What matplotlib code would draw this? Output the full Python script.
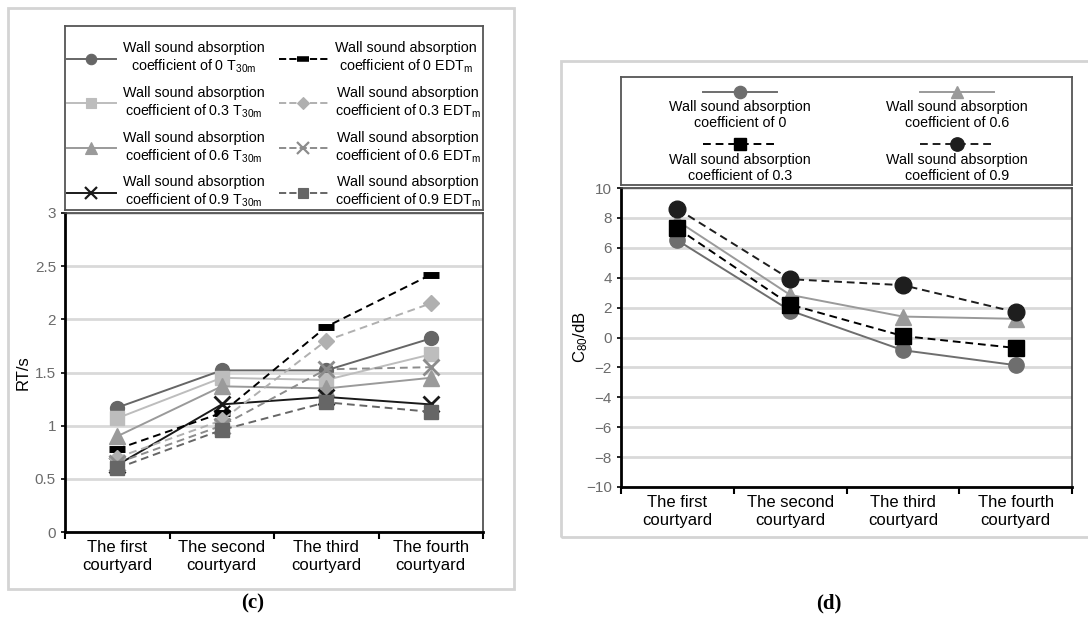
import matplotlib.pyplot as plt
from matplotlib.lines import Line2D
from matplotlib.patches import Rectangle
import numpy as np

plt.rcParams['font.family'] = ['Liberation Sans', 'DejaVu Sans']
plt.rcParams['mathtext.fontset'] = 'custom'
plt.rcParams['mathtext.rm'] = 'Liberation Sans'
plt.rcParams['mathtext.it'] = 'Liberation Sans'

# ---------------- data ----------------
courtyards = ['The first\ncourtyard', 'The second\ncourtyard',
              'The third\ncourtyard', 'The fourth\ncourtyard']

# panel (c): reverberation time, s
t30_0 = [1.17, 1.52, 1.52, 1.82]
t30_03 = [1.07, 1.45, 1.43, 1.67]
t30_06 = [0.90, 1.37, 1.35, 1.45]
t30_09 = [0.63, 1.20, 1.27, 1.20]
edt_0 = [0.78, 1.12, 1.93, 2.42]
edt_03 = [0.70, 1.05, 1.80, 2.15]
edt_06 = [0.65, 1.00, 1.53, 1.55]
edt_09 = [0.60, 0.96, 1.22, 1.13]

# panel (d): clarity C80, dB
c80_0 = [6.5, 1.8, -0.85, -1.85]
c80_03 = [7.3, 2.2, 0.1, -0.7]
c80_06 = [7.8, 2.85, 1.4, 1.25]
c80_09 = [8.6, 3.9, 3.5, 1.7]

coefs = ['0', '0.3', '0.6', '0.9']

W, H = 1088, 628
fig = plt.figure(figsize=(W / 100, H / 100), dpi=100)


def fx(px):
    return px / W


def fy(py):
    return 1 - py / H


# outer gray frames
fig.patches.append(Rectangle((fx(8), fy(589)), fx(506), 581 / H,
                             transform=fig.transFigure, fill=False,
                             edgecolor='#d4d4d4', lw=2))
fig.patches.append(Rectangle((fx(561), fy(537)), fx(540), 476 / H,
                             transform=fig.transFigure, fill=False,
                             edgecolor='#d4d4d4', lw=2))

x = np.arange(len(courtyards))
DASH = (0, (4, 2.5))


def style_axes(ax, yticks, ylim):
    ax.set_xlim(-0.5, len(courtyards) - 0.5)
    ax.set_ylim(*ylim)
    ax.set_yticks(yticks)
    ax.set_xticks(np.arange(-0.5, len(courtyards)), labels=[])
    ax.set_xticks(x, labels=courtyards, minor=True)
    ax.tick_params(axis='x', which='major', direction='out', length=5,
                   width=1.5, color='black')
    ax.tick_params(axis='x', which='minor', length=0, labelsize=12,
                   pad=6)
    ax.tick_params(axis='y', direction='out', length=3, width=1.2,
                   labelsize=11, labelcolor='#6b6b6b')
    ax.grid(axis='y', color='#d9d9d9', lw=2, zorder=0)
    ax.set_axisbelow(True)
    for s in ['left', 'bottom']:
        ax.spines[s].set_linewidth(2)
        ax.spines[s].set_color('black')
    for s in ['top', 'right']:
        ax.spines[s].set_linewidth(1.2)
        ax.spines[s].set_color('#444444')


# ---------------- panel (c) ----------------
axc = fig.add_axes([fx(65), fy(532), fx(418), 319 / H])
series_c = [
    (t30_0, dict(color='#666666', ls='-', marker='o', ms=10)),
    (t30_03, dict(color='#bdbdbd', ls='-', marker='s', ms=10)),
    (t30_06, dict(color='#9a9a9a', ls='-', marker='^', ms=11)),
    (t30_09, dict(color='#1a1a1a', ls='-', marker='x', ms=11, mew=2)),
    (edt_0, dict(color='black', ls=DASH, marker='_', ms=11, mew=5)),
    (edt_03, dict(color='#b0b0b0', ls=DASH, marker='D', ms=8)),
    (edt_06, dict(color='#8c8c8c', ls=DASH, marker='x', ms=11, mew=2)),
    (edt_09, dict(color='#666666', ls=DASH, marker='s', ms=10)),
]
handles_c = []
for vals, kw in series_c:
    ln, = axc.plot(x, vals, lw=1.4, zorder=3, **kw)
    handles_c.append(ln)
style_axes(axc, np.arange(0, 3.01, 0.5), (0, 3))
axc.set_yticks(np.arange(0, 3.01, 0.5), labels=['0', '0.5', '1', '1.5',
                                                  '2', '2.5', '3'])
axc.set_ylabel('RT/s', fontsize=12, labelpad=3)

labels_c = ['Wall sound absorption\ncoefficient of %s T$_{30\\mathrm{m}}$' % c
            for c in coefs]
labels_c += ['Wall sound absorption\ncoefficient of %s EDT$_{\\mathrm{m}}$' % c
             for c in coefs]

legc_ax = fig.add_axes([fx(65), fy(210), fx(418), 184 / H])
legc_ax.set_xticks([])
legc_ax.set_yticks([])
for s in legc_ax.spines.values():
    s.set_color('#555555')
    s.set_linewidth(1.3)
small_handles = []
for h in handles_c:
    sh = Line2D([], [], color=h.get_color(), ls=h.get_linestyle(), lw=1.4,
                marker=h.get_marker(), ms=h.get_markersize() * 0.75,
                mew=h.get_markeredgewidth() * 0.8)
    small_handles.append(sh)
leg = legc_ax.legend(small_handles, labels_c, ncol=2, loc='center',
                     bbox_to_anchor=(0.5, 0.46),
                     frameon=False, fontsize=10.3, handlelength=3.4,
                     handletextpad=0.5, columnspacing=1.0, labelspacing=0.75)
for t in leg.get_texts():
    t.set_multialignment('center')

# ---------------- panel (d) ----------------
axd = fig.add_axes([fx(621), fy(487), fx(451), 299 / H])
series_d = [
    (c80_0, dict(color='#6e6e6e', ls='-', marker='o', ms=11)),
    (c80_06, dict(color='#9a9a9a', ls='-', marker='^', ms=11)),
    (c80_03, dict(color='black', ls=DASH, marker='s', ms=11)),
    (c80_09, dict(color='#1e1e1e', ls=DASH, marker='o', ms=12)),
]
for vals, kw in series_d:
    axd.plot(x, vals, lw=1.4, zorder=3, **kw)
style_axes(axd, np.arange(-10, 10.1, 2), (-10, 10))
axd.set_ylabel('C$_{80}$/dB', fontsize=12, labelpad=-3)

legd_ax = fig.add_axes([fx(621), fy(185), fx(451), 108 / H])
legd_ax.set_xlim(0, 1)
legd_ax.set_ylim(0, 1)
legd_ax.set_xticks([])
legd_ax.set_yticks([])
for s in legd_ax.spines.values():
    s.set_color('#555555')
    s.set_linewidth(1.3)
# legend entries: handle above a centred two-line label
legend_d = [(0.264, 0.861, 0.648, series_d[0], '0'),
            (0.745, 0.861, 0.648, series_d[1], '0.6'),
            (0.264, 0.380, 0.157, series_d[2], '0.3'),
            (0.745, 0.380, 0.157, series_d[3], '0.9')]
for cx, hy, ty, (vals, kw), c in legend_d:
    legd_ax.plot([cx - 0.082, cx + 0.082], [hy, hy], color=kw['color'],
                 ls=kw['ls'], lw=1.4)
    legd_ax.plot([cx], [hy], color=kw['color'], marker=kw['marker'],
                 ms=kw['ms'] * 0.8)
    legd_ax.text(cx, ty, 'Wall sound absorption\ncoefficient of %s' % c,
                 ha='center', va='center', fontsize=10.3,
                 multialignment='center', linespacing=1.15)

# panel captions
fig.text(fx(253), fy(603), '(c)', ha='center', va='center', fontsize=15,
         family='Liberation Serif', fontweight='bold')
fig.text(fx(829), fy(603), '(d)', ha='center', va='center', fontsize=15,
         family='Liberation Serif', fontweight='bold')

plt.savefig('out.png', dpi=100)
